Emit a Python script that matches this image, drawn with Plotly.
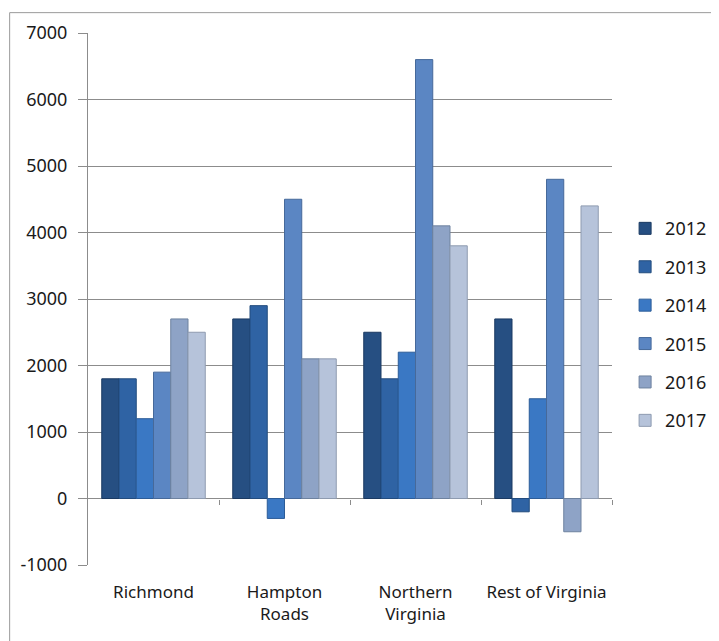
import plotly.graph_objects as go

categories = ["Richmond", "Hampton<br>Roads", "Northern<br>Virginia", "Rest of Virginia"]
years = ["2012", "2013", "2014", "2015", "2016", "2017"]
values = {
    "2012": [1800, 2700, 2500, 2700],
    "2013": [1800, 2900, 1800, -200],
    "2014": [1200, -300, 2200, 1500],
    "2015": [1900, 4500, 6600, 4800],
    "2016": [2700, 2100, 4100, -500],
    "2017": [2500, 2100, 3800, 4400],
}
colors = ["#264F82", "#2F63A4", "#3A78C4", "#5B86C3", "#8EA3C6", "#B6C3DA"]
edges = ["#1B3A62", "#234C7E", "#2C5C98", "#46699A", "#6E829F", "#8E9BB0"]
yticks = [-1000, 0, 1000, 2000, 3000, 4000, 5000, 6000, 7000]
yticklabels = ["-1000", "0", "1000", "2000", "3000", "4000", "5000", "6000", "7000"]

fig = go.Figure()
for i, yr in enumerate(years):
    fig.add_trace(go.Bar(
        x=list(range(len(categories))), y=values[yr], name=yr,
        legendgroup=yr,
        marker=dict(color=colors[i], line=dict(color=edges[i], width=1)),
    ))

# invisible trace on xaxis2 to carry the zero-line tick marks
fig.add_trace(go.Scatter(x=[-0.5, 3.5], y=[0, 0], xaxis="x2", mode="lines",
                         line=dict(width=0), showlegend=False, hoverinfo="skip"))

font = "Noto Sans"
L, T, R, B = 79, 21, 115, 84
pw, ph = 719 - L - R, 641 - T - B
fig.update_layout(
    width=719, height=641,
    margin=dict(l=L, r=R, t=T, b=B),
    paper_bgcolor="white", plot_bgcolor="white",
    barmode="group", bargap=0.21, bargroupgap=0,
    font=dict(family=font, size=17, color="#1a1a1a"),
    showlegend=True,
    legend=dict(x=1.025, y=0.667, xanchor="left", yanchor="top",
                font=dict(size=18, family=font), tracegroupgap=12,
                itemwidth=30, bgcolor="rgba(0,0,0,0)"),
    xaxis=dict(range=[-0.5, 3.5], tickvals=list(range(len(categories))),
               ticktext=categories, showgrid=False, showline=False, ticks="",
               zeroline=False, tickfont=dict(size=17, family=font, color="#1a1a1a"),
               ticklabelstandoff=15),
    xaxis2=dict(range=[-0.5, 3.5], overlaying="x", anchor="free", position=0.125,
                side="bottom", showline=False, showgrid=False, zeroline=False,
                tickvals=[0.5, 1.5, 2.5, 3.5], ticks="outside", ticklen=5,
                tickcolor="#8c8c8c", showticklabels=False),
    yaxis=dict(range=[-1000, 7000], tickvals=yticks, ticktext=yticklabels,
               showgrid=True,
               gridcolor="#8c8c8c", gridwidth=1, showline=True, linecolor="#8c8c8c",
               linewidth=1, ticks="outside", ticklen=9, tickcolor="#8c8c8c",
               zeroline=True, zerolinecolor="#8c8c8c", zerolinewidth=1,
               ticklabelstandoff=7,
               tickfont=dict(size=18, family=font, color="#1a1a1a")),
    shapes=[dict(type="rect", xref="paper", yref="paper",
                 x0=(0.5 - L) / pw, x1=1.3, y0=-0.2, y1=(ph + T - 0.5) / ph,
                 line=dict(color="#9a9a9a", width=1), fillcolor="rgba(0,0,0,0)",
                 layer="below")],
)

fig.write_html("out.html")
